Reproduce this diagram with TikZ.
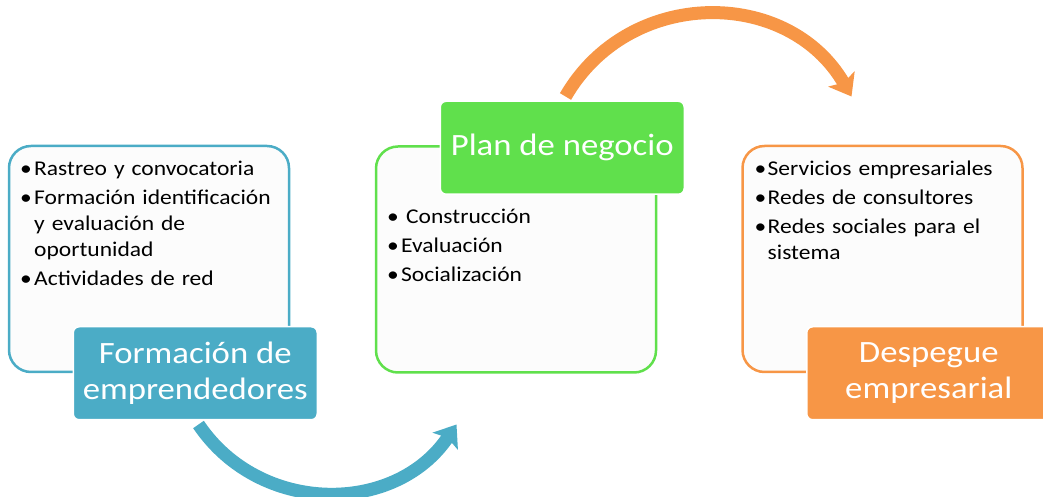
\documentclass[tikz,border=0pt]{standalone}
\usepackage{fontspec}
\setmainfont{Carlito}[FakeStretch=1.12]
\usetikzlibrary{positioning,arrows.meta}

\definecolor{fblue}{RGB}{75,172,198}
\definecolor{fgreen}{RGB}{96,224,76}
\definecolor{forange}{RGB}{247,150,70}
\definecolor{fpaper}{RGB}{252,252,252}

\newcommand{\bul}[2][13pt]{\par\hangindent=#1\hangafter=1\noindent\makebox[#1][l]{\hspace{-1pt}\textbullet}#2\par}

\begin{document}
\begin{tikzpicture}[x=1pt,y=1pt,
		panel/.style={draw=#1,fill=fpaper,line width=2.5pt,rounded corners=22pt,minimum width=280pt,minimum height=226pt,inner sep=0pt,outer sep=0pt},
		items/.style={anchor=north west,inner sep=0pt,text width=265pt,font=\fontsize{21}{26}\selectfont,execute at begin node={\raggedright\setlength{\parskip}{3pt}}},
		headbox/.style={fill=#1,draw=white,line width=1.5pt,rounded corners=6pt,text=white,minimum width=244pt,minimum height=93pt,align=center,anchor=north east,font=\fontsize{31}{36}\selectfont},
		swoop/.style={draw=#1,line width=13pt,-{Stealth[length=20pt,width=30pt,inset=4pt]}}]
	\useasboundingbox (0,0) rectangle (1043,497);
	\clip (0,0) rectangle (1043,497);

	\node[panel=fblue] (b1) at (149,238) {};
	\node[panel=fgreen] (b2) at (516,237.5) {};
	\node[panel=forange] (b3) at (882.5,238) {};

	\node[items,below right=0pt and 12pt of b1.north west] (t1) {\bul{Rastreo y convocatoria}\bul{Formación identificación\newline y evaluación de\newline oportunidad}\bul{Actividades de red}};
	\node[items,below right=48pt and 12pt of b2.north west] (t2) {\bul{\hspace{5pt}Construcción}\bul{Evaluación}\bul{Socialización}};
	\node[items,below right=0pt and 13pt of b3.north west] (t3) {\bul[12pt]{Servicios empresariales}\bul[12pt]{Redes de consultores}\bul[12pt]{Redes sociales para el\newline sistema}};

	\node[headbox=fblue] (l1) at ([shift={(29,46)}]b1.south east) {Formación de\\emprendedores};
	\node[headbox=fgreen] (l2) at ([shift={(29,46)}]b2.north east) {Plan de negocio};
	\node[headbox=forange] (l3) at ([shift={(29,46)}]b3.south east) {Despegue\\empresarial};

	\coordinate (a1s) at ([shift={(126,-4)}]l1.south west);
	\coordinate (a1e) at ([shift={(258,0)}]a1s);
	\coordinate (a2s) at ([shift={(126,4)}]l2.north west);
	\coordinate (a2e) at ([shift={(286,0)}]a2s);

	\draw[swoop=fblue] (a1s) to[out=-56,in=236,looseness=1.09] (a1e);
	\draw[swoop=forange] (a2s) to[out=60,in=120,looseness=1.135] (a2e);
\end{tikzpicture}
\end{document}
